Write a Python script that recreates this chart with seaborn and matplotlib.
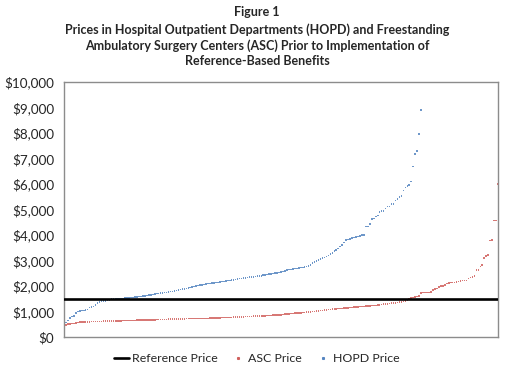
import numpy as np
import pandas as pd
import matplotlib
matplotlib.use("Agg")
import matplotlib.pyplot as plt
from matplotlib.lines import Line2D
import seaborn as sns

# prices sorted low to high, one value per facility
hopd_price = [
    560, 650, 745, 800, 820, 950, 1000, 1020, 1030, 1040,
    1050, 1080, 1150, 1180, 1200, 1250, 1320, 1380, 1400, 1410,
    1420, 1440, 1460, 1480, 1490, 1500, 1500, 1500, 1510, 1510,
    1520, 1520, 1530, 1540, 1550, 1560, 1570, 1580, 1590, 1600,
    1610, 1620, 1640, 1650, 1660, 1680, 1700, 1710, 1720, 1730,
    1740, 1750, 1760, 1780, 1790, 1800, 1820, 1840, 1860, 1880,
    1890, 1900, 1920, 1940, 1960, 1980, 1990, 2010, 2030, 2040,
    2050, 2070, 2090, 2100, 2110, 2120, 2130, 2140, 2160, 2170,
    2180, 2200, 2210, 2220, 2230, 2240, 2250, 2270, 2290, 2300,
    2310, 2320, 2330, 2340, 2350, 2360, 2370, 2380, 2390, 2400,
    2420, 2430, 2450, 2460, 2470, 2490, 2500, 2510, 2520, 2540,
    2560, 2590, 2620, 2640, 2650, 2660, 2680, 2690, 2700, 2720,
    2730, 2750, 2770, 2780, 2830, 2900, 2950, 2990, 3020, 3050,
    3085, 3120, 3150, 3200, 3250, 3300, 3380, 3420, 3470, 3540,
    3610, 3700, 3800, 3820, 3850, 3880, 3900, 3920, 3935, 3950,
    4000, 4010, 4325, 4325, 4420, 4615, 4650, 4720, 4760, 4890,
    4940, 4940, 5045, 5110, 5110, 5215, 5215, 5350, 5400, 5480,
    5530, 5740, 5870, 5920, 5960, 6090, 6680, 7180, 7290, 7960,
    8900,
]

asc_price = [
    470, 500, 510, 520, 530, 540, 560, 580, 590, 590,
    590, 590, 595, 600, 600, 600, 605, 610, 610, 615,
    620, 620, 620, 625, 625, 630, 630, 630, 635, 640,
    640, 640, 645, 650, 650, 650, 655, 660, 660, 660,
    665, 665, 670, 670, 670, 675, 680, 680, 680, 685,
    690, 690, 695, 700, 700, 700, 705, 705, 710, 710,
    710, 715, 715, 720, 720, 720, 720, 725, 725, 725,
    730, 730, 730, 735, 740, 740, 745, 750, 750, 755,
    760, 760, 765, 770, 770, 775, 780, 780, 785, 790,
    790, 795, 800, 800, 805, 810, 810, 815, 820, 820,
    825, 830, 835, 840, 845, 850, 855, 860, 865, 870,
    880, 890, 900, 910, 920, 925, 930, 935, 940, 950,
    955, 960, 970, 975, 985, 990, 1000, 1010, 1020, 1030,
    1040, 1050, 1060, 1070, 1080, 1090, 1100, 1105, 1110, 1115,
    1120, 1125, 1130, 1140, 1150, 1160, 1170, 1180, 1185, 1190,
    1195, 1200, 1210, 1215, 1220, 1230, 1235, 1240, 1250, 1260,
    1280, 1295, 1300, 1300, 1310, 1320, 1330, 1340, 1350, 1360,
    1370, 1390, 1420, 1450, 1500, 1530, 1550, 1570, 1580, 1600,
    1720, 1740, 1740, 1740, 1750, 1760, 1850, 1870, 1900, 1960,
    1990, 2000, 2040, 2100, 2120, 2130, 2130, 2140, 2150, 2180,
    2200, 2210, 2210, 2220, 2300, 2330, 2340, 2400, 2630, 2630,
    2760, 2820, 3100, 3180, 3215, 3780, 3800, 4560, 4560, 6000,
]

reference_price = 1500

df = pd.concat([
    pd.DataFrame({"idx": np.arange(1, len(asc_price) + 1), "price": asc_price, "tipo": "ASC Price"}),
    pd.DataFrame({"idx": np.arange(1, len(hopd_price) + 1), "price": hopd_price, "tipo": "HOPD Price"}),
])

cores = {"ASC Price": "#D0605D", "HOPD Price": "#5585C0"}

sns.set_style("white")
plt.rcParams["font.family"] = ["Lato", "DejaVu Sans"]

fig = plt.figure(figsize=(5.14, 3.79), dpi=100)
ax = fig.add_axes([0.1245, 0.111, 0.8445, 0.6726])

sns.scatterplot(data=df, x="idx", y="price", hue="tipo", palette=cores,
                marker="s", s=1.3, linewidth=0, alpha=0.85, legend=False, ax=ax)
ax.axhline(reference_price, color="black", lw=1.9, zorder=3)

ax.set_xlim(0, len(asc_price))
ax.set_ylim(0, 10000)
ax.set_yticks(np.arange(0, 10001, 1000))
ax.set_yticklabels([f"${v:,.0f}" for v in np.arange(0, 10001, 1000)], fontsize=9.7, color="#262626")
ax.set_xticks([])
ax.set_xlabel("")
ax.set_ylabel("")
ax.tick_params(axis="y", length=0, pad=7)
for s in ax.spines.values():
    s.set_color("#8C8C8C")
    s.set_linewidth(1.0)

fig.text(0.5, 0.968, "Figure 1", ha="center", va="center", fontsize=9, fontweight="bold")
fig.text(0.5, 0.881,
         "Prices in Hospital Outpatient Departments (HOPD) and Freestanding\n"
         "Ambulatory Surgery Centers (ASC) Prior to Implementation of\n"
         "Reference-Based Benefits",
         ha="center", va="center", fontsize=9, fontweight="bold", linespacing=1.3)

handles = [
    Line2D([], [], color="black", lw=1.9),
    Line2D([], [], color=cores["ASC Price"], marker="s", ms=1.2, lw=0),
    Line2D([], [], color=cores["HOPD Price"], marker="s", ms=1.2, lw=0),
]
fig.legend(handles, ["Reference Price", "ASC Price", "HOPD Price"], loc="center",
           bbox_to_anchor=(0.5, 0.053), ncol=3, frameon=False, fontsize=8.9,
           handlelength=1.2, handletextpad=0.2, columnspacing=1.1,
           labelcolor="#262626")

fig.savefig("out.png", dpi=100)
